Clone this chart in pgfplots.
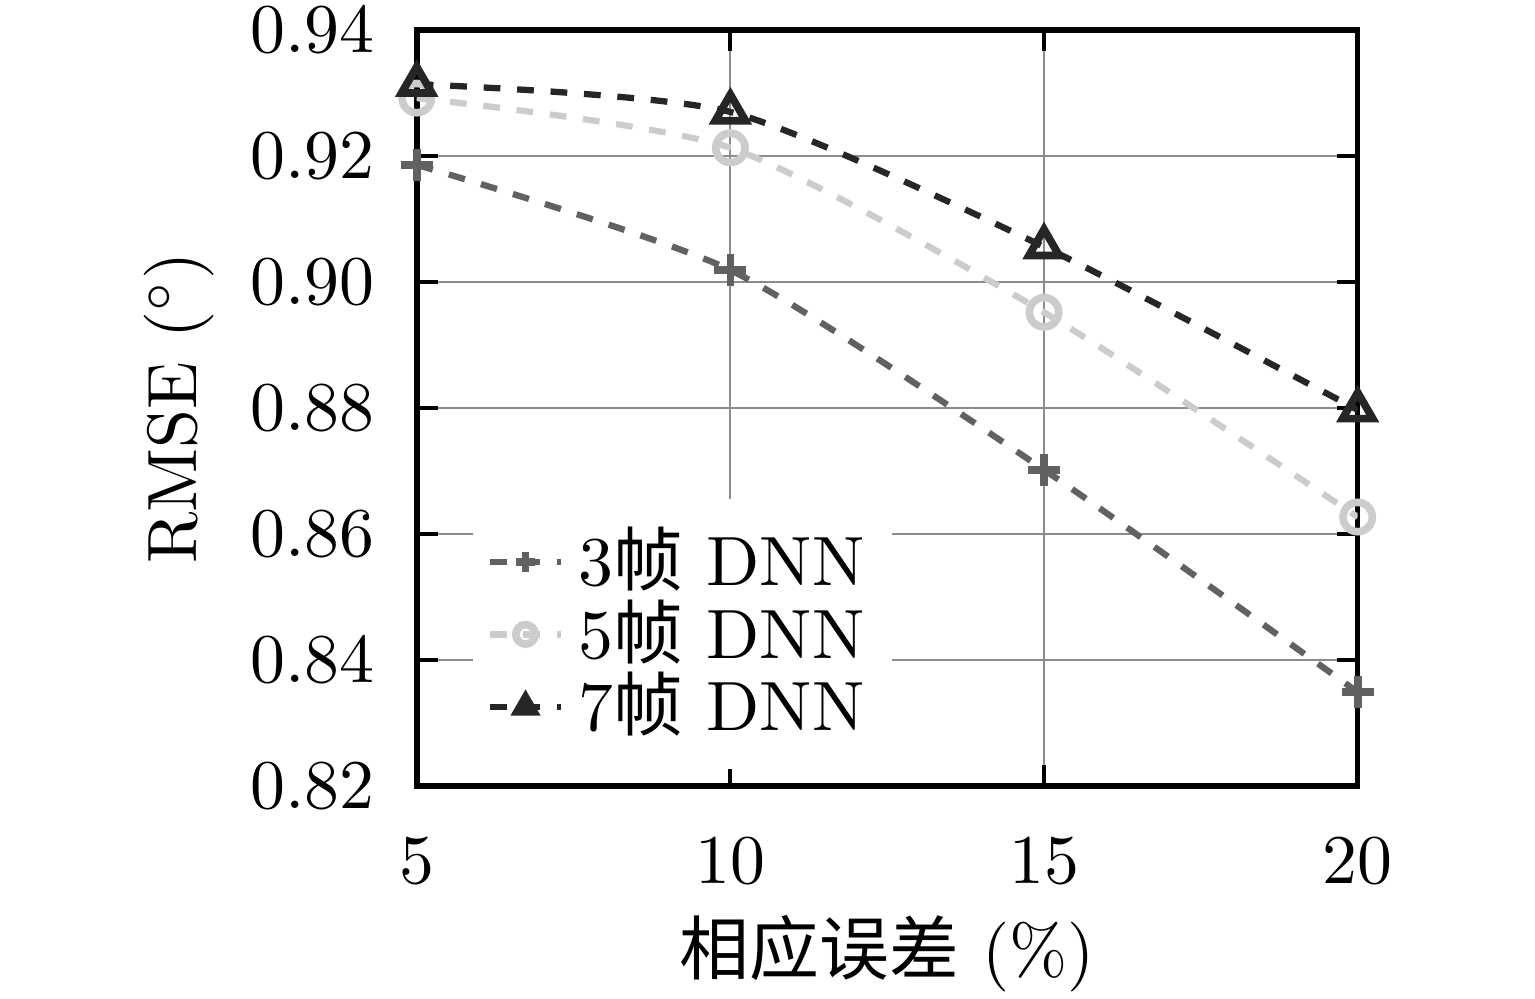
\documentclass[border=0pt]{standalone}
\usepackage{fontspec}
\newfontfamily\cjk{Noto Sans CJK SC}
\usepackage{pgfplots}
\pgfplotsset{compat=1.18}
\definecolor{cA}{gray}{0.38}
\definecolor{cB}{gray}{0.80}
\definecolor{cC}{gray}{0.15}
\begin{document}
\begin{tikzpicture}
\path[use as bounding box] (-59.7pt,-30.5pt) rectangle (160.2pt,112.6pt);
\begin{axis}[
  at={(0,0)}, anchor=south west,
  scale only axis=true,
  width=134.8pt, height=108.3pt,
  xmin=5, xmax=20, ymin=0.82, ymax=0.94,
  xtick={5,10,15,20},
  ytick={0.82,0.84,0.86,0.88,0.90,0.92,0.94},
  yticklabel style={xshift=-2.5pt, /pgf/number format/fixed, /pgf/number format/fixed zerofill, /pgf/number format/precision=2},
  xticklabel style={yshift=-4pt},
  tick style={black, line width=0.6pt},
  major tick length=3pt,
  axis line style={line width=0.8pt},
  grid=major,
  grid style={gray!90, line width=0.3pt},
  xlabel={{\cjk 相应误差} (\%)},
  ylabel={RMSE $(^\circ)$},
  xlabel style={at={(axis description cs:0.5,-0.222)}, anchor=center},
  ylabel style={at={(axis description cs:-0.2525,0.5)}, anchor=center},
  legend style={at={(axis description cs:0.058,0.381)}, anchor=north west,
     draw=none, fill=white, inner sep=2pt, row sep=-3.5pt},
  legend cell align=left,
  legend image code/.code={
    \draw[#1] (0cm,0cm) -- (0.36cm,0cm);
    \draw[#1, mark size=1.4pt, only marks] plot coordinates {(0.18cm,0cm)};
  },
]
\addplot[cA, line width=0.9pt, dash pattern=on 2.4pt off 2.4pt, smooth, tension=0.4,
  mark=+, mark size=2.3pt, mark options={solid, line width=1.1pt}]
  coordinates {(5,0.9186) (10,0.9019) (15,0.8702) (20,0.8349)};
\addlegendentry{3{\cjk 帧} DNN}
\addplot[cB, line width=0.9pt, dash pattern=on 2.4pt off 2.4pt, smooth, tension=0.4,
  mark=o, mark size=2.1pt, mark options={solid, line width=1.1pt}]
  coordinates {(5,0.9292) (10,0.9213) (15,0.8952) (20,0.8627)};
\addlegendentry{5{\cjk 帧} DNN}
\addplot[cC, line width=0.9pt, dash pattern=on 2.4pt off 2.4pt, smooth, tension=0.4,
  mark=triangle, mark size=2.5pt, mark options={solid, line width=1.1pt}]
  coordinates {(5,0.9314) (10,0.9270) (15,0.9056) (20,0.8797)};
\addlegendentry{7{\cjk 帧} DNN}
\end{axis}
\end{tikzpicture}
\end{document}
